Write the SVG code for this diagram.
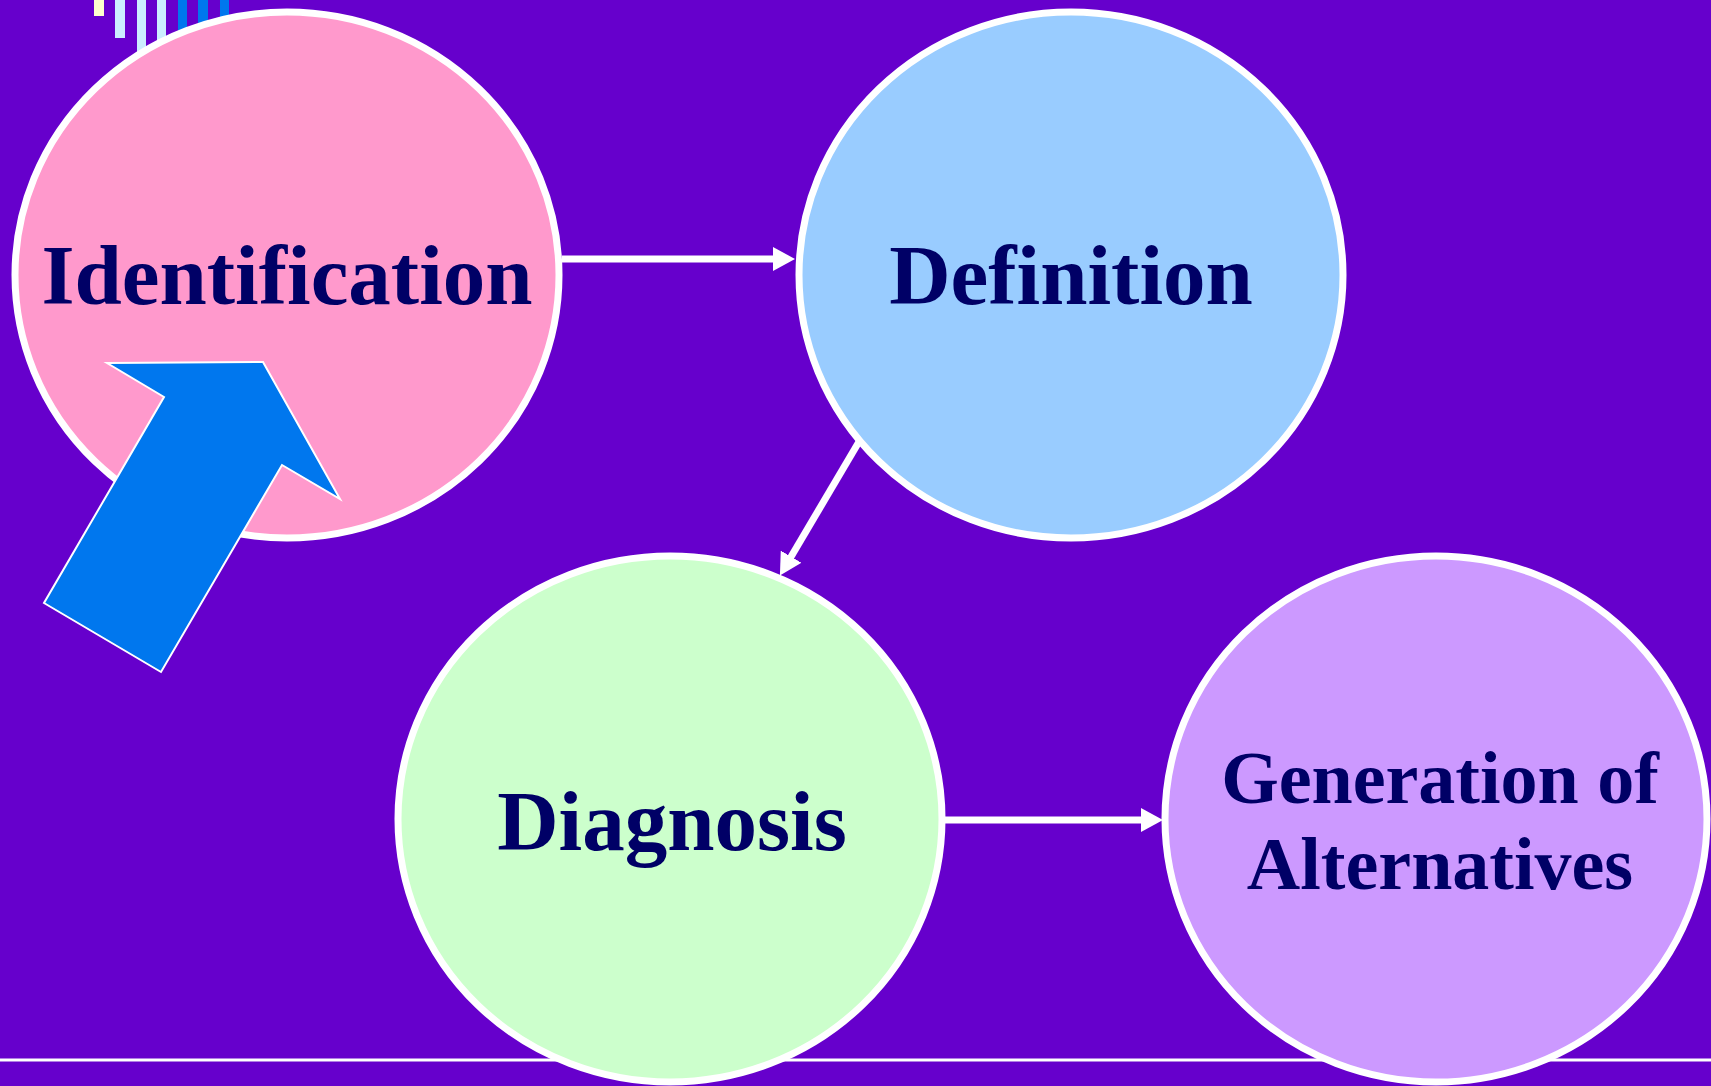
<svg xmlns="http://www.w3.org/2000/svg" width="1711" height="1086" viewBox="0 0 1711 1086">
<style>
.node{stroke:#FFFFFF;stroke-width:7}
.lbl{font-family:"Liberation Serif","Times New Roman",serif;font-weight:bold;fill:#000066;text-anchor:middle}
.conn{stroke:#FFFFFF;stroke-width:7;fill:none}
</style>
<defs>
<marker id="ah" markerUnits="userSpaceOnUse" markerWidth="22" markerHeight="24" refX="12" refY="12" orient="auto" viewBox="0 0 22 24">
<path d="M0,0 L22,12 L0,24 Z" fill="#FFFFFF"/>
</marker>
</defs>
<rect x="0" y="0" width="1711" height="1086" fill="#6600CC"/>
<g id="decor">
<rect x="94" y="0" width="10" height="16" fill="#FFFFCC"/>
<rect x="115" y="0" width="10" height="38" fill="#CCEEFF"/>
<rect x="137" y="0" width="9" height="80" fill="#CCEEFF"/>
<rect x="157" y="0" width="9" height="80" fill="#CCEEFF"/>
<rect x="178" y="0" width="9" height="80" fill="#0077EE"/>
<rect x="198" y="0" width="10" height="80" fill="#0077EE"/>
<rect x="220" y="0" width="9" height="80" fill="#0077EE"/>
<line x1="0" y1="1060" x2="1711" y2="1060" stroke="#FFFFFF" stroke-width="3"/>
</g>
<g id="connectors">
<line class="conn" x1="562" y1="259" x2="785" y2="259" marker-end="url(#ah)"/>
<line class="conn" x1="860" y1="440" x2="785" y2="567" marker-end="url(#ah)"/>
<line class="conn" x1="945" y1="820" x2="1153" y2="820" marker-end="url(#ah)"/>
</g>
<g id="identification">
<ellipse class="node" cx="287" cy="275" rx="272" ry="263" fill="#FF99CC"/>
<text class="lbl" x="287" y="304" font-size="85">Identification</text>
</g>
<g id="definition">
<ellipse class="node" cx="1071" cy="275" rx="272" ry="263" fill="#99CCFF"/>
<text class="lbl" x="1071" y="304" font-size="85">Definition</text>
</g>
<g id="diagnosis">
<ellipse class="node" cx="670" cy="819" rx="272" ry="263" fill="#CCFFCC"/>
<text class="lbl" x="672" y="850" font-size="85">Diagnosis</text>
</g>
<g id="generation">
<ellipse class="node" cx="1436" cy="819" rx="271" ry="263" fill="#CC99FF"/>
<text class="lbl" x="1440" y="803" font-size="74">Generation of</text>
<text class="lbl" x="1440" y="889" font-size="74">Alternatives</text>
</g>
<g id="blue-arrow">
<polygon points="107,363 263,362 340,499 282,465 161,672 44,603 164,397" fill="#0077EE" stroke="#FFFFFF" stroke-width="2" stroke-linejoin="miter"/>
</g>
</svg>
